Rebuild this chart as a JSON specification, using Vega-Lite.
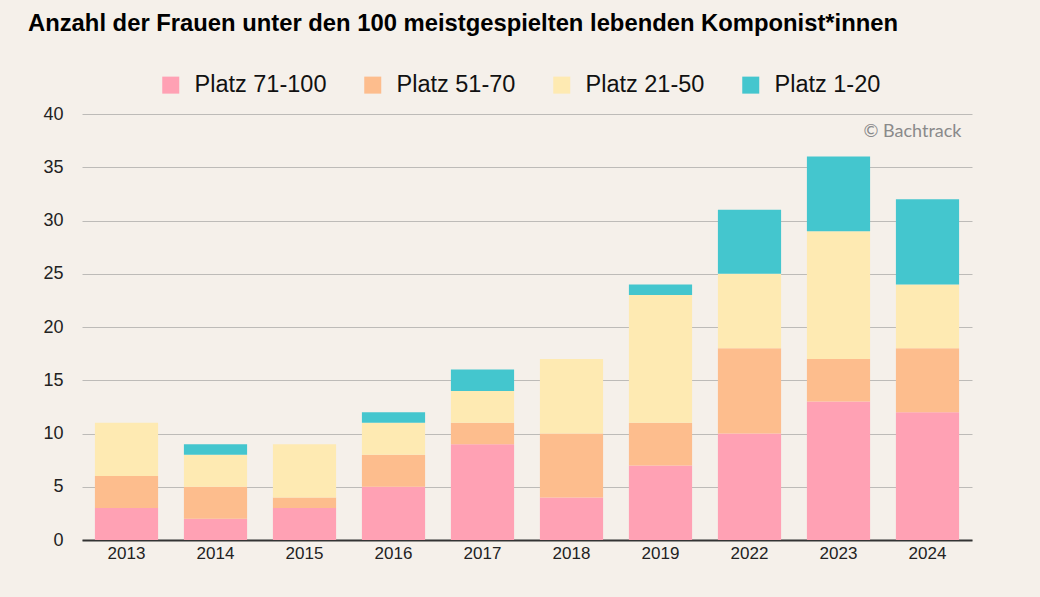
{
  "$schema": "https://vega.github.io/schema/vega-lite/v6.json",
  "width": 890,
  "height": 426,
  "autosize": "none",
  "padding": {"left": 82, "top": 114, "right": 68, "bottom": 57},
  "background": "#F5F0EA",
  "title": {
    "text": "Anzahl der Frauen unter den 100 meistgespielten lebenden Komponist*innen",
    "anchor": "start",
    "frame": "group",
    "dx": -54,
    "font": "Liberation Sans",
    "fontSize": 23.8,
    "fontWeight": "bold",
    "color": "#000000",
    "offset": 37
  },
  "config": {
    "view": {"stroke": null},
    "font": "Liberation Sans"
  },
  "data": {
    "values": [
      {"jahr": "2013", "gruppe": "Platz 71-100", "rang": 0, "anzahl": 3},
      {"jahr": "2013", "gruppe": "Platz 51-70", "rang": 1, "anzahl": 3},
      {"jahr": "2013", "gruppe": "Platz 21-50", "rang": 2, "anzahl": 5},
      {"jahr": "2014", "gruppe": "Platz 71-100", "rang": 0, "anzahl": 2},
      {"jahr": "2014", "gruppe": "Platz 51-70", "rang": 1, "anzahl": 3},
      {"jahr": "2014", "gruppe": "Platz 21-50", "rang": 2, "anzahl": 3},
      {"jahr": "2014", "gruppe": "Platz 1-20", "rang": 3, "anzahl": 1},
      {"jahr": "2015", "gruppe": "Platz 71-100", "rang": 0, "anzahl": 3},
      {"jahr": "2015", "gruppe": "Platz 51-70", "rang": 1, "anzahl": 1},
      {"jahr": "2015", "gruppe": "Platz 21-50", "rang": 2, "anzahl": 5},
      {"jahr": "2016", "gruppe": "Platz 71-100", "rang": 0, "anzahl": 5},
      {"jahr": "2016", "gruppe": "Platz 51-70", "rang": 1, "anzahl": 3},
      {"jahr": "2016", "gruppe": "Platz 21-50", "rang": 2, "anzahl": 3},
      {"jahr": "2016", "gruppe": "Platz 1-20", "rang": 3, "anzahl": 1},
      {"jahr": "2017", "gruppe": "Platz 71-100", "rang": 0, "anzahl": 9},
      {"jahr": "2017", "gruppe": "Platz 51-70", "rang": 1, "anzahl": 2},
      {"jahr": "2017", "gruppe": "Platz 21-50", "rang": 2, "anzahl": 3},
      {"jahr": "2017", "gruppe": "Platz 1-20", "rang": 3, "anzahl": 2},
      {"jahr": "2018", "gruppe": "Platz 71-100", "rang": 0, "anzahl": 4},
      {"jahr": "2018", "gruppe": "Platz 51-70", "rang": 1, "anzahl": 6},
      {"jahr": "2018", "gruppe": "Platz 21-50", "rang": 2, "anzahl": 7},
      {"jahr": "2019", "gruppe": "Platz 71-100", "rang": 0, "anzahl": 7},
      {"jahr": "2019", "gruppe": "Platz 51-70", "rang": 1, "anzahl": 4},
      {"jahr": "2019", "gruppe": "Platz 21-50", "rang": 2, "anzahl": 12},
      {"jahr": "2019", "gruppe": "Platz 1-20", "rang": 3, "anzahl": 1},
      {"jahr": "2022", "gruppe": "Platz 71-100", "rang": 0, "anzahl": 10},
      {"jahr": "2022", "gruppe": "Platz 51-70", "rang": 1, "anzahl": 8},
      {"jahr": "2022", "gruppe": "Platz 21-50", "rang": 2, "anzahl": 7},
      {"jahr": "2022", "gruppe": "Platz 1-20", "rang": 3, "anzahl": 6},
      {"jahr": "2023", "gruppe": "Platz 71-100", "rang": 0, "anzahl": 13},
      {"jahr": "2023", "gruppe": "Platz 51-70", "rang": 1, "anzahl": 4},
      {"jahr": "2023", "gruppe": "Platz 21-50", "rang": 2, "anzahl": 12},
      {"jahr": "2023", "gruppe": "Platz 1-20", "rang": 3, "anzahl": 7},
      {"jahr": "2024", "gruppe": "Platz 71-100", "rang": 0, "anzahl": 12},
      {"jahr": "2024", "gruppe": "Platz 51-70", "rang": 1, "anzahl": 6},
      {"jahr": "2024", "gruppe": "Platz 21-50", "rang": 2, "anzahl": 6},
      {"jahr": "2024", "gruppe": "Platz 1-20", "rang": 3, "anzahl": 8}
    ]
  },
  "layer": [
    {
      "mark": {"type": "bar"},
      "encoding": {
        "x": {
          "field": "jahr",
          "type": "nominal",
          "scale": {"paddingInner": 0.29, "paddingOuter": 0.145},
          "axis": {
            "title": null,
            "labelAngle": 0,
            "labelFontSize": 17,
            "labelColor": "#222222",
            "labelPadding": 5,
            "ticks": false,
            "domainColor": "#333333",
            "domainWidth": 2,
            "grid": false
          }
        },
        "y": {
          "field": "anzahl",
          "type": "quantitative",
          "stack": "zero",
          "scale": {"domain": [0, 40], "nice": false},
          "axis": {
            "title": null,
            "values": [0, 5, 10, 15, 20, 25, 30, 35, 40],
            "labelFontSize": 18,
            "labelColor": "#222222",
            "labelPadding": 19,
            "ticks": false,
            "domain": false,
            "grid": true,
            "gridColor": "#BDBBB8",
            "gridWidth": 1.2
          }
        },
        "color": {
          "field": "gruppe",
          "type": "nominal",
          "scale": {
            "domain": ["Platz 71-100", "Platz 51-70", "Platz 21-50", "Platz 1-20"],
            "range": ["#FFA1B4", "#FDBD8D", "#FEEAB2", "#44C6CE"]
          },
          "legend": {
            "title": null,
            "orient": "none",
            "direction": "horizontal",
            "legendX": 77,
            "legendY": -41,
            "symbolType": "square",
            "symbolSize": 289,
            "symbolStrokeWidth": 0,
            "labelFontSize": 23.5,
            "labelColor": "#111111",
            "labelOffset": 12,
            "columnPadding": 34
          }
        },
        "order": {"field": "rang", "type": "quantitative", "sort": "ascending"}
      }
    },
    {
      "data": {"values": [{}]},
      "mark": {
        "type": "text",
        "text": "© Bachtrack",
        "align": "right",
        "baseline": "middle",
        "font": "Lato",
        "fontSize": 18,
        "color": "#8A8A8A",
        "dx": 34,
        "dy": 18
      },
      "encoding": {
        "x": {"datum": "2024", "type": "nominal"},
        "y": {"datum": 40, "type": "quantitative"}
      }
    }
  ]
}
